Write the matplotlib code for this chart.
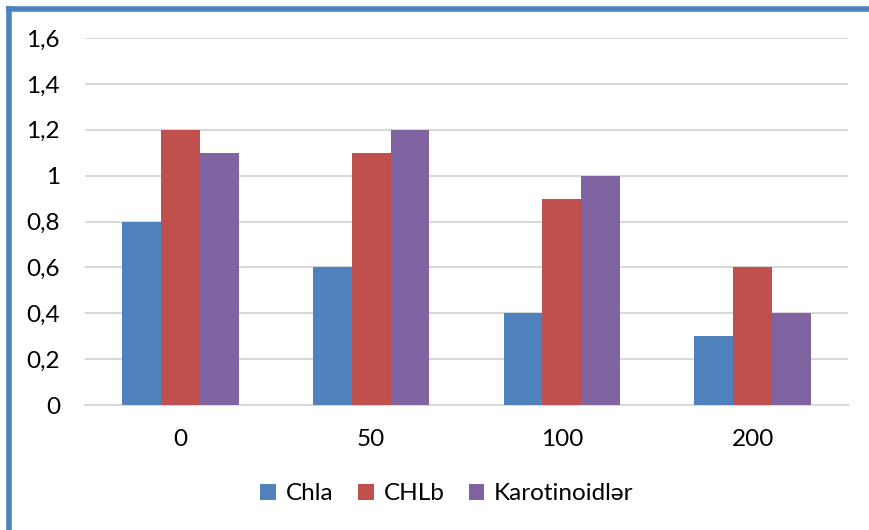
import matplotlib
matplotlib.use("Agg")
import matplotlib.pyplot as plt
from matplotlib.lines import Line2D
from matplotlib.patches import Patch

plt.rcParams['font.family'] = ['Lato', 'DejaVu Sans']

categories = ["0", "50", "100", "200"]
series_names = ["Chla", "CHLb", "Karotinoidlər"]
chla = [0.8, 0.6, 0.4, 0.3]
chlb = [1.2, 1.1, 0.9, 0.6]
karot = [1.1, 1.2, 1.0, 0.4]
yticks = [0, 0.2, 0.4, 0.6, 0.8, 1.0, 1.2, 1.4, 1.6]
ytick_labels = ["0", "0,2", "0,4", "0,6", "0,8", "1", "1,2", "1,4", "1,6"]
colors = ["#4F81BD", "#C0504D", "#8064A2"]

fig = plt.figure(figsize=(8.69, 5.30), dpi=100)
W, H = 869, 530
ax = fig.add_axes([85 / W, 1 - 405 / H, (848 - 85) / W, (405 - 38) / H])

w = 0.204
x = list(range(len(categories)))
for i, (vals, c) in enumerate(zip([chla, chlb, karot], colors)):
    ax.bar([xi + (i - 1) * w for xi in x], vals, width=w, color=c, zorder=3)

ax.set_xlim(-0.5, 3.5)
ax.set_ylim(0, 1.6)
ax.set_yticks(yticks)
ax.set_yticklabels(ytick_labels)
ax.set_xticks(x)
ax.set_xticklabels(categories)
ax.tick_params(axis='both', length=0, labelsize=17.5, colors='black')
ax.tick_params(axis='y', pad=18)
ax.tick_params(axis='x', pad=17)
ax.grid(axis='y', color='#D9D9D9', linewidth=1.5, zorder=0)
for s in ['top', 'right', 'left']:
    ax.spines[s].set_visible(False)
ax.spines['bottom'].set_color('#D9D9D9')
ax.spines['bottom'].set_linewidth(1.5)

handles = [Patch(facecolor=c) for c in colors]
fig.legend(handles, series_names, loc='center', bbox_to_anchor=(447 / W, 1 - 494 / H),
           ncol=3, frameon=False, fontsize=17.5, handlelength=0.65, handleheight=0.65,
           handletextpad=0.4, columnspacing=1.0)

# blue border (left and top)
fig.add_artist(Line2D([8.5 / W, 8.5 / W], [0, 1 - 6 / H], transform=fig.transFigure,
                      color="#4F81BD", linewidth=4.0, solid_capstyle='butt'))
fig.add_artist(Line2D([6 / W, 1], [1 - 8.5 / H, 1 - 8.5 / H], transform=fig.transFigure,
                      color="#4F81BD", linewidth=4.0, solid_capstyle='butt'))

fig.savefig("out.png", dpi=100)
